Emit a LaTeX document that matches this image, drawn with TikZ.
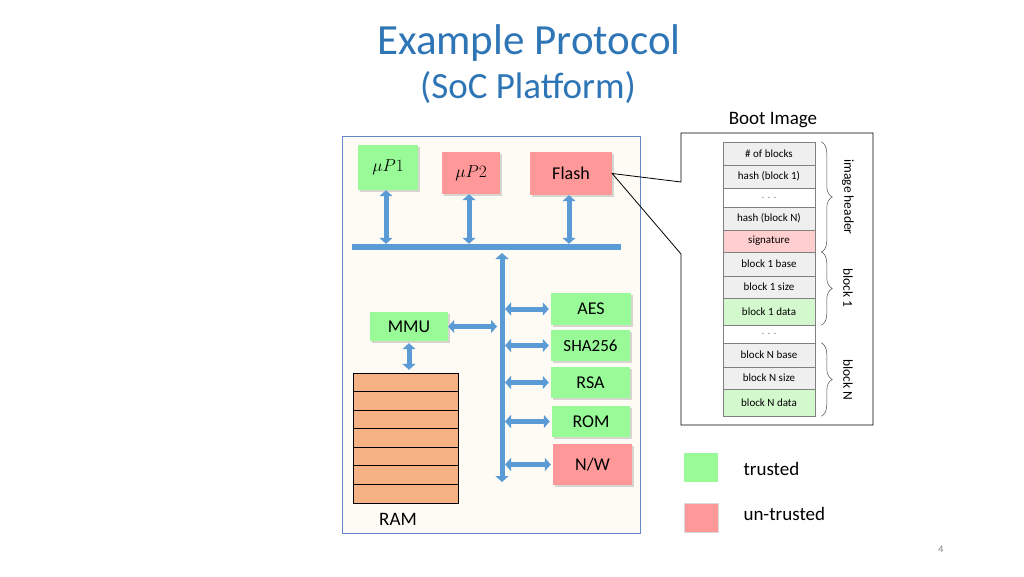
\documentclass[tikz,border=0pt]{standalone}
\usepackage{amsmath}
\usepackage{fontspec}
\setmainfont{Carlito}
\usepackage{xcolor}
\usepackage{tikz}
\usetikzlibrary{arrows.meta}
\usetikzlibrary{shadows}
\usetikzlibrary{decorations.pathreplacing}

\definecolor{titleblue}{RGB}{46,117,182}
\definecolor{busblue}{RGB}{91,155,213}
\definecolor{frameblue}{RGB}{100,135,200}
\definecolor{boxbg}{RGB}{253,251,244}
\definecolor{trustgreen}{RGB}{152,251,152}
\definecolor{untrustred}{RGB}{255,153,153}
\definecolor{ramorange}{RGB}{244,177,131}
\definecolor{rowgrey}{RGB}{239,239,239}
\definecolor{sigpink}{RGB}{255,206,206}
\definecolor{datagreen}{RGB}{212,248,206}

\newcommand{\fs}[1]{\fontsize{#1}{#1}\selectfont}

\begin{document}
\begin{tikzpicture}[x=1pt,y=-1pt,
	hwbox/.style={inner sep=0pt, drop shadow={shadow xshift=2pt, shadow yshift=-2pt, opacity=0.3}, font=\fs{18}},
	busarrow/.style={draw=busblue, line width=5pt, {Triangle[width=13pt,length=6pt]}-{Triangle[width=13pt,length=6pt]}},
	bootrow/.style={draw=gray, line width=0.5pt, minimum width=92pt, inner sep=0pt, font=\fs{11}},
	brace/.style={decorate, decoration={brace, amplitude=11pt}, draw=black!70, line width=0.5pt},
	sidelabel/.style={rotate=-90, font=\fs{13.5}},
	legend/.style={minimum width=34pt, minimum height=29pt, inner sep=0pt}]
	\useasboundingbox (0,0) rectangle (1024,576);

	% title
	\node[titleblue, font=\fs{43}] (title) at (529,43) {Example Protocol};
	\node[titleblue, font=\fs{37}] (subtitle) at (528,88) {(SoC Platform)};

	% SoC platform
	\draw[frameblue, fill=boxbg, line width=0.8pt] (342,136) rectangle (640,533);
	\node[hwbox, fill=trustgreen, minimum width=60pt, minimum height=45pt, font=\fs{19}] (mup1) at (388,167.5) {$\mu P1$};
	\node[hwbox, fill=untrustred, minimum width=58pt, minimum height=42pt, font=\fs{19}] (mup2) at (471,173) {$\mu P2$};
	\node[hwbox, fill=untrustred, minimum width=82pt, minimum height=43pt] (flash) at (571,173.5) {Flash};
	\node[fill=busblue, minimum width=269pt, minimum height=6pt, inner sep=0pt] (bus) at (486.5,247) {};
	\foreach \n in {mup1,mup2,flash}
		\draw[busarrow] ([xshift=-2pt]\n.south) -- ([xshift=-2pt]\n.south |- bus.north);

	\coordinate (vtop) at (502,253);
	\coordinate (vbot) at (502,482);
	\draw[busarrow] (vtop) -- (vbot);

	\node[hwbox, fill=trustgreen, minimum width=78pt, minimum height=29pt] (mmu) at (409,326.5) {MMU};
	\node[hwbox, fill=trustgreen, minimum width=80pt, minimum height=32pt] (aes) at (591,309) {AES};
	\node[hwbox, fill=trustgreen, minimum width=79pt, minimum height=31pt, font=\fs{17}] (sha) at (590.5,345.5) {SHA256};
	\node[hwbox, fill=trustgreen, minimum width=79pt, minimum height=31pt] (rsa) at (590.5,382.5) {RSA};
	\node[hwbox, fill=trustgreen, minimum width=78pt, minimum height=31pt] (rom) at (591,421.5) {ROM};
	\node[hwbox, fill=untrustred, minimum width=79pt, minimum height=41pt] (nw) at (592.5,464.5) {N/W};
	\foreach \n in {aes,sha,rsa,rom,nw}
		\draw[busarrow] ([xshift=3pt]vtop |- \n.west) -- ([xshift=-2pt]\n.west);
	\draw[busarrow] (mmu.east) -- ([xshift=-5pt]vtop |- mmu.east);

	% RAM
	\node[draw=black, fill=ramorange, minimum width=105pt, minimum height=130pt, inner sep=0pt] (ram) at (405.5,438) {};
	\foreach \i in {1,...,6}
		\draw ([yshift={-\i*130/7*1pt}]ram.north west) -- ([yshift={-\i*130/7*1pt}]ram.north east);
	\draw[busarrow] ([yshift=-2pt]mmu.south) -- ([yshift=3pt]mmu.south |- ram.north);
	\node[font=\fs{19}] (ramlabel) at (398,519) {RAM};

	% boot image
	\node[font=\fs{19}] (bootlabel) at (773,120) {Boot Image};
	\foreach \n/\ya/\yb/\col/\txt in {
		1/142/165/rowgrey/{\# of blocks},
		2/165/188/rowgrey/{hash (block 1)},
		3/188/207/white/{\textcolor{gray}{. . .}},
		4/207/230/rowgrey/{hash (block N)},
		5/230/252/sigpink/{signature},
		6/252/276/rowgrey/{block 1 base},
		7/276/298/rowgrey/{block 1 size},
		8/298/325/datagreen/{block 1 data},
		9/325/343/white/{\textcolor{gray}{. . .}},
		10/343/367/rowgrey/{block N base},
		11/367/389/rowgrey/{block N size},
		12/389/416/datagreen/{block N data}}
		\node[bootrow, fill=\col, minimum height={(\yb-\ya)*1pt}] (r\n) at (769,{(\ya+\yb)/2}) {\txt};

	\draw[brace] ([xshift=6pt]r1.north east) -- ([xshift=6pt]r5.south east);
	\node[sidelabel] (hdrlabel) at (848,197) {image header};
	\draw[brace] ([xshift=6pt]r6.north east) -- ([xshift=6pt]r8.south east);
	\node[sidelabel] (b1label) at (848,288) {block 1};
	\draw[brace] ([xshift=6pt]r10.north east) -- ([xshift=6pt]r12.south east);
	\node[sidelabel] (bnlabel) at (848,380) {block N};

	% callout from flash
	\draw[line width=0.8pt] (flash.east) -- (681,182) -- (681,133) -- (873,133)
		-- (873,425) -- (681,425) -- (681,254) -- cycle;

	% legend
	\node[legend, fill=trustgreen] (lgreen) at (701,467.5) {};
	\node[anchor=west, font=\fs{19}] (ltrust) at (740,469) {trusted};
	\node[legend, fill=untrustred, draw=black!15] (lred) at (701,518) {};
	\node[anchor=west, font=\fs{19}] (luntrust) at (740,514) {un-trusted};

	\node[gray, font=\fs{10}] (page) at (941,549) {4};
\end{tikzpicture}
\end{document}
